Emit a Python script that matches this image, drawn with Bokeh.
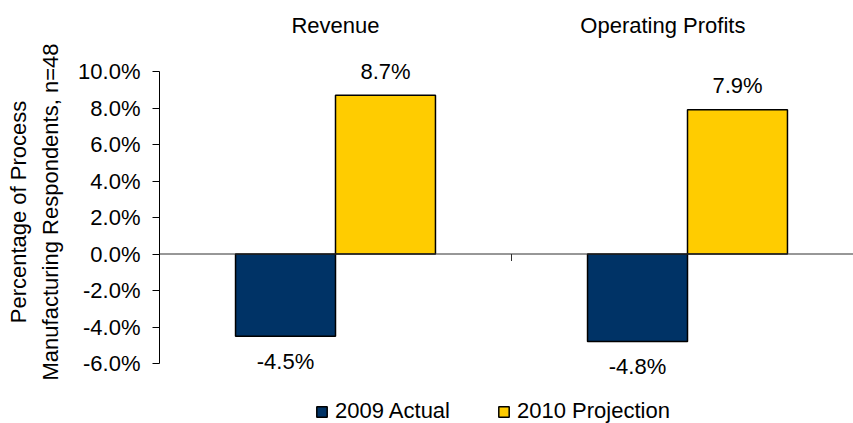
from bokeh.plotting import figure
from bokeh.models import (Range1d, FixedTicker, PrintfTickFormatter, Span, Legend,
                          LegendItem, ColumnDataSource)
from bokeh.core.properties import value
from bokeh.embed import file_html
from bokeh.resources import INLINE

# ---- data ----
categories = ["Revenue", "Operating Profits"]
actual_2009 = [-4.5, -4.8]
projection_2010 = [8.7, 7.9]
series_names = ["2009 Actual", "2010 Projection"]
y_ticks = [-6, -4, -2, 0, 2, 4, 6, 8, 10]
y_title = "Percentage of Process\nManufacturing Respondents, n=48"

# ---- style / layout ----
FONT = value("Liberation Sans")
FS = "22px"
BLUE = "#003366"
YELLOW = "#FFCC00"
BAR_W = 0.284
PX_PER_UNIT = 18.25
W, H = 853, 423
LEFT = 159
FRAME_H = H
FRAME_W = W - LEFT
CAT_PX = 352
Y_TOP_PX = 71          # pixel distance of 10% from frame top

y_hi = y_ticks[-1] + Y_TOP_PX / PX_PER_UNIT
y_lo = y_hi - FRAME_H / PX_PER_UNIT
x_hi = FRAME_W / CAT_PX

p = figure(width=W, height=H, output_backend="svg", toolbar_location=None,
           x_range=Range1d(0, x_hi), y_range=Range1d(y_lo, y_hi),
           x_axis_location=None, min_border_left=LEFT, min_border_right=0,
           min_border_top=0, min_border_bottom=0)
p.outline_line_color = None
p.grid.visible = False
p.background_fill_color = "white"
p.border_fill_color = "white"

centers = [i + 0.5 for i in range(len(categories))]
x_blue = [c - BAR_W / 2 for c in centers]
x_yel = [c + BAR_W / 2 for c in centers]

r1 = p.vbar(x=x_blue, top=actual_2009, bottom=0, width=BAR_W,
            fill_color=BLUE, line_color="black", line_width=1.5)
r2 = p.vbar(x=x_yel, top=projection_2010, bottom=0, width=BAR_W,
            fill_color=YELLOW, line_color="black", line_width=1.5)

# zero line and category separator tick
p.add_layout(Span(location=0, dimension="width", line_color="#303030", line_width=1))
boundaries = list(range(1, len(categories)))
p.ray(x=boundaries, y=[0] * len(boundaries), length=7, length_units="screen",
      angle=-1.5707963, line_color="#303030", line_width=1)

# value labels
vals = actual_2009 + projection_2010
xs = x_blue + x_yel
src = ColumnDataSource(dict(
    x=xs, y=vals, t=[f"{v:.1f}%" for v in vals],
    off=[25 if v < 0 else -24 for v in vals]))
p.text(x="x", y="y", text="t", y_offset="off", source=src, text_align="center",
       text_baseline="middle", text_font=FONT, text_font_size=FS, text_color="black")

# category headers
header_x = [centers[0], centers[1] - 0.07]
header_y = y_ticks[-1] + 46 / PX_PER_UNIT
p.text(x=header_x, y=[header_y] * len(categories), text=categories,
       text_align="center", text_baseline="middle", text_font=FONT,
       text_font_size=FS, text_color="black")

# y axis
ya = p.yaxis[0]
ya.bounds = (y_ticks[0], y_ticks[-1])
ya.ticker = FixedTicker(ticks=y_ticks)
ya.formatter = PrintfTickFormatter(format="%.1f%%")
ya.minor_tick_line_color = None
ya.major_tick_in = 0
ya.major_tick_out = 7
ya.major_label_standoff = 12
ya.axis_line_color = "black"
ya.major_tick_line_color = "black"
ya.major_label_text_font = "Liberation Sans"
ya.major_label_text_font_size = FS
ya.major_label_text_color = "black"
ya.axis_label = y_title
ya.axis_label_text_font = "Liberation Sans"
ya.axis_label_text_font_size = FS
ya.axis_label_text_font_style = "normal"
ya.axis_label_text_color = "black"
ya.axis_label_text_line_height = 1.3
ya.axis_label_standoff = 12

legend = Legend(items=[LegendItem(label=series_names[0], renderers=[r1]),
                       LegendItem(label=series_names[1], renderers=[r2])],
                orientation="horizontal", location=(156, -1),
                glyph_width=13, glyph_height=13, label_standoff=7, spacing=47,
                padding=0, margin=0, border_line_color=None,
                background_fill_alpha=0, label_text_font="Liberation Sans",
                label_text_font_size=FS, label_text_color="black")
p.add_layout(legend)

open("out.html", "w").write(file_html(p, INLINE))
